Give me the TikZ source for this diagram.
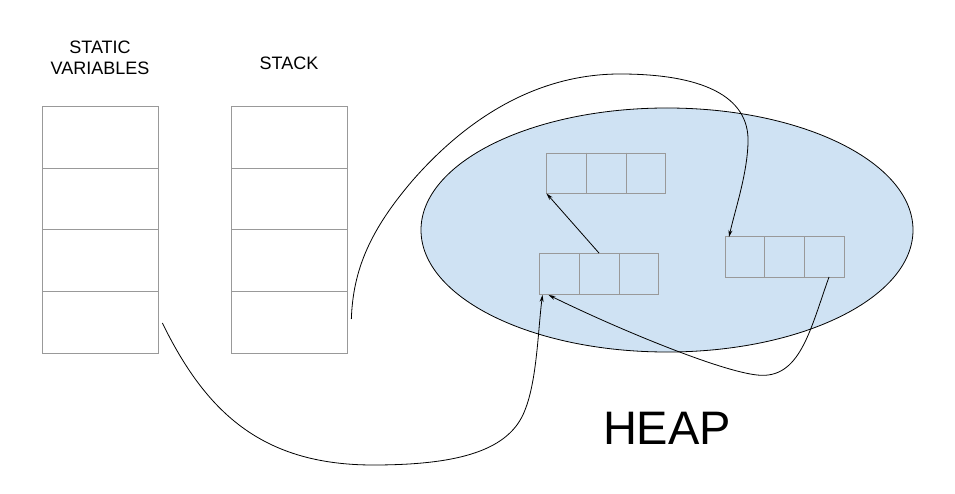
\documentclass[tikz,border=0pt]{standalone}
\usepackage{fontspec}
\setmainfont{Liberation Sans}
\usetikzlibrary{shapes,calc,arrows.meta}
\definecolor{heapblue}{RGB}{207,226,243}

\begin{document}
\begin{tikzpicture}[x=1pt,y=-1pt]
        \useasboundingbox (0,0) rectangle (955,494);
        \tikzstyle{column}=[rectangle split, rectangle split parts=4, draw=black!40, inner sep=0pt,
          rectangle split empty part width=111pt, rectangle split empty part height=61.25pt, rectangle split empty part depth=0pt]
        \tikzstyle{array}=[rectangle split, rectangle split horizontal, rectangle split parts=3, draw=black!40, inner sep=0pt,
          rectangle split empty part width=34pt, rectangle split empty part height=40.5pt, rectangle split empty part depth=0pt]
        \tikzstyle{title}=[font=\fontsize{18}{21}\selectfont, align=center]
        \tikzstyle{link}=[-{Stealth[length=7pt,width=4pt]}, black, line width=0.8pt]
        \node[ellipse, draw, fill=heapblue, line width=0.8pt, minimum width=492pt, minimum height=244pt, inner sep=0pt] (heap) at (667,230) {};
        \node[title] (statlabel) at (100,57.5) {STATIC\\VARIABLES};
        \node[title] (stklabel) at (289,63) {STACK};
        \node[column] (stat) at (100,229.5) {};
        \node[column] (stk) at (289,229.5) {};
        \node[array] (A) at (606,173) {};
        \node[array] (B) at (599,273.5) {};
        \node[array] (C) at (784.5,256.5) {};
        \node[font=\fontsize{47}{50}\selectfont] (heaplabel) at (667,428) {HEAP};
        \coordinate (stkout) at ($(stk.south east)+(4,-34)$);
        \coordinate (statout) at ($(stat.south east)+(4,-30)$);
        \coordinate (Cout) at ($(C.south east)+(-15,0)$);
        \draw[link] (B.north) -- (A.south west);
        \draw[link] (stkout) .. controls (353,270) and (370,230) .. (413,180)
          .. controls (470,115) and (540,74) .. (620,74)
          .. controls (700,74) and (750,95) .. (748,143)
          .. controls (747,175) and (735,210) .. ($(C.north west)+(4,1)$);
        \draw[link] (statout) .. controls (205,410) and (260,465) .. (373,465)
          .. controls (460,465) and (510,450) .. (525,410)
          .. controls (537,380) and (538,330) .. ($(B.south west)+(3,1)$);
        \draw[link] (Cout) .. controls (810,330) and (800,380) .. (757,375)
          .. controls (720,371) and (620,330) .. ($(B.south west)+(9,1)$);
\end{tikzpicture}
\end{document}
